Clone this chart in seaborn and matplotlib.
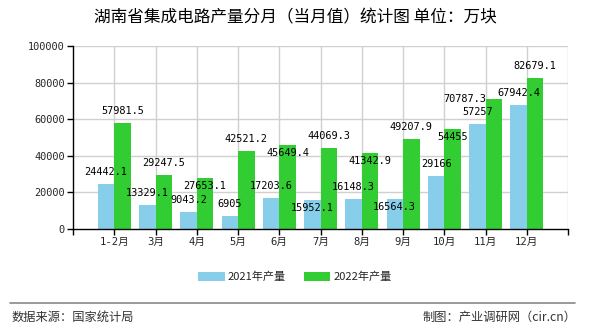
import matplotlib
matplotlib.use("Agg")
import matplotlib.pyplot as plt
import seaborn as sns
import pandas as pd
from matplotlib.patches import Patch
from matplotlib.lines import Line2D

months = ["1-2月", "3月", "4月", "5月", "6月", "7月", "8月", "9月", "10月", "11月", "12月"]
v2021 = [24442.1, 13329.1, 9043.2, 6905, 17203.6, 15952.1, 16148.3, 16564.3, 29166, 57257, 67942.4]
v2022 = [57981.5, 29247.5, 27653.1, 42521.2, 45649.4, 44069.3, 41342.9, 49207.9, 54455, 70787.3, 82679.1]
series = ["2021年产量", "2022年产量"]
colors = ["#87CEEB", "#32CD32"]
yticks = [0, 20000, 40000, 60000, 80000, 100000]

# label placement (pixel offsets from bar top), mimicking the reference's collision avoidance
UP, DOWN = (0, 12), (0, -8)
label_off = [
    [UP, UP, UP, UP, UP, DOWN, UP, DOWN, UP, UP, UP],
    [UP, UP, DOWN, UP, DOWN, UP, DOWN, UP, DOWN, (-29, 0), UP],
]

sns.set_theme(style="white")
plt.rcParams['font.family'] = ['Noto Sans CJK SC', 'DejaVu Sans']
MONO = ['DejaVu Sans Mono', 'Noto Sans CJK SC']

df = pd.DataFrame({
    "month": months * 2,
    "value": v2021 + v2022,
    "series": [series[0]] * len(months) + [series[1]] * len(months),
})

fig = plt.figure(figsize=(5.9, 3.3), dpi=100)
ax = fig.add_axes([73/590, 1-229/330, (568-73)/590, (229-46)/330])

sns.barplot(data=df, x="month", y="value", hue="series", order=months,
            hue_order=series, palette=colors, ax=ax, width=0.8,
            saturation=1, legend=False, zorder=3, linewidth=0, edgecolor="none")

ax.set_xlim(-1, len(months))
ax.set_ylim(0, 100000)
ax.set_xlabel("")
ax.set_ylabel("")

# grid
for x in range(0, len(months) + 1):
    ax.axvline(x, color="#d0d0d0", lw=1, zorder=1)
for y in yticks[1:]:
    ax.axhline(y, color="#d0d0d0", lw=1, zorder=1)

ax.set_xticks(list(range(-1, len(months) + 1)))
ax.set_xticklabels([""] + months + [""], fontsize=7.6, family=MONO)
ax.set_yticks(yticks)
ax.set_yticklabels([str(t) for t in yticks], fontsize=7.4, family=MONO)
ax.tick_params(axis="both", which="both", length=4, width=1, color="black",
               direction="out", bottom=True, left=True, pad=2)

for s in ["top", "right"]:
    ax.spines[s].set_visible(False)
for s in ["left", "bottom"]:
    ax.spines[s].set_color("black")
    ax.spines[s].set_linewidth(1)
    ax.spines[s].set_zorder(4)

# value labels
for si, cont in enumerate(ax.containers):
    for bi, bar in enumerate(cont):
        h = bar.get_height()
        txt = f"{h:.1f}".rstrip("0").rstrip(".") if h != int(h) else str(int(h))
        ax.annotate(txt, (bar.get_x() + bar.get_width() / 2, h),
                    xytext=label_off[si][bi], textcoords="offset pixels",
                    ha="center", va="center", fontsize=7.4,
                    family="DejaVu Sans Mono", color="black", zorder=5,
                    annotation_clip=False)

fig.text(0.5, 1 - 18/330, "湖南省集成电路产量分月（当月值）统计图 单位：万块",
         ha="center", va="center", fontsize=12, color="black")

handles = [Patch(facecolor=c, edgecolor="none") for c in colors]
fig.legend(handles, series, loc="center", bbox_to_anchor=(0.5, 1 - 277/330),
           ncol=2, frameon=False, fontsize=8, handlelength=2.4, handleheight=0.8,
           columnspacing=1.6, handletextpad=0.3)

fig.add_artist(Line2D([10/590, 575/590], [1 - 303/330] * 2, color="#888888", lw=1.2))
fig.text(12/590, 1 - 317/330, "数据来源：国家统计局", ha="left", va="center",
         fontsize=8.8, color="#333333")
fig.text(576/590, 1 - 317/330, "制图：产业调研网（cir.cn）", ha="right", va="center",
         fontsize=8.8, color="#333333", family=MONO[::-1])

fig.savefig("out.png", dpi=100)
